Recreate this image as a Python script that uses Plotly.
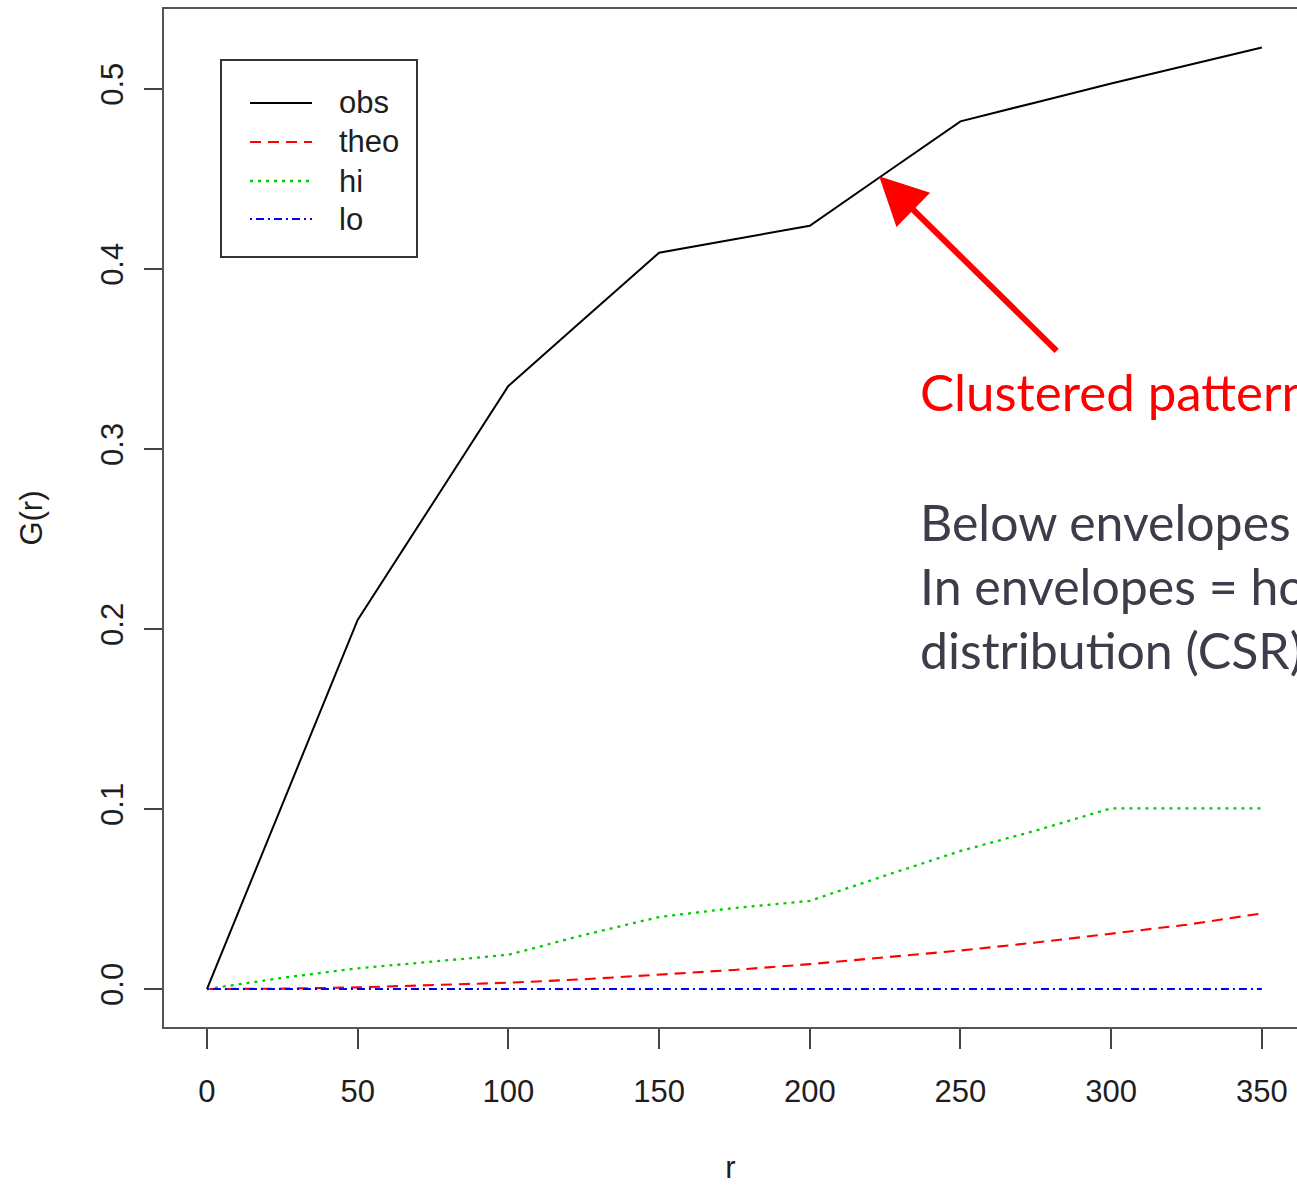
import plotly.graph_objects as go

# Nearest-neighbour distribution G(r) with simulation envelopes
r = [0, 25, 50, 75, 100, 125, 150, 175, 200, 225, 250, 275, 300, 325, 350]
g_obs = [0.0, 0.1025, 0.205, 0.270, 0.335, 0.372, 0.409, 0.4165, 0.424,
         0.453, 0.482, 0.4925, 0.503, 0.513, 0.523]
g_theo = [0.0, 0.0002, 0.0009, 0.0020, 0.0035, 0.0054, 0.0078, 0.0106,
          0.0138, 0.0174, 0.0214, 0.0258, 0.0306, 0.0357, 0.0420]
g_hi = [0.0, 0.0062, 0.0115, 0.0152, 0.0190, 0.0300, 0.0400, 0.0450,
        0.0490, 0.0630, 0.0767, 0.0880, 0.1004, 0.1004, 0.1004]
g_lo = [0.0, 0.0, 0.0, 0.0, 0.0, 0.0, 0.0, 0.0, 0.0, 0.0, 0.0, 0.0, 0.0, 0.0, 0.0]

x_ticks = [0, 50, 100, 150, 200, 250, 300, 350]
y_ticks = [0.0, 0.1, 0.2, 0.3, 0.4, 0.5]
y_ticktext = ["0.0", "0.1", "0.2", "0.3", "0.4", "0.5"]

series = [
    ("obs", g_obs, "#000000", "solid", 2.0),
    ("theo", g_theo, "#FF0000", "11px,7px", 2.1),
    ("hi", g_hi, "#00CD00", "3px,5px", 2.3),
    ("lo", g_lo, "#0000FF", "2px,4px,8px,4px", 2.1),
]

W, H = 1297, 1185
L, T, B = 164, 9, 158
plot_w = W - L
plot_h = H - T - B

FONT = "Liberation Sans, Arial, sans-serif"
TXT = "#1e1e1e"


def px(x):
    return (x - L) / plot_w


def py(y):
    return (H - B - y) / plot_h


fig = go.Figure()
for name, vals, col, dash, w in series:
    fig.add_trace(go.Scatter(x=r, y=vals, mode="lines", name=name,
                             line=dict(color=col, dash=dash, width=w)))

# Legend box drawn in the base-graphics style
shapes = [dict(type="rect", xref="paper", yref="paper",
               x0=px(221), x1=px(417), y0=py(257), y1=py(60),
               line=dict(color="#333333", width=2), fillcolor="white")]
annotations = []
row_y = [103, 142, 181, 219]
for (name, vals, col, dash, w), yy in zip(series, row_y):
    shapes.append(dict(type="line", xref="paper", yref="paper",
                       x0=px(250), x1=px(312), y0=py(yy), y1=py(yy),
                       line=dict(color=col, dash=dash, width=w)))
    annotations.append(dict(xref="paper", yref="paper", x=px(337), y=py(yy),
                            text=name, showarrow=False, xanchor="left",
                            yanchor="middle",
                            font=dict(family=FONT, size=31, color=TXT)))

# Arrow pointing to the observed curve
annotations.append(dict(x=223, y=0.4515, xref="x", yref="y", text="",
                        showarrow=True, ax=179, ay=176, axref="pixel",
                        arrowcolor="#FF0000", arrowwidth=6, arrowhead=2,
                        arrowsize=1.6))

GILL = "Lato, Gill Sans, sans-serif"
annotations.append(dict(xref="paper", yref="paper", x=px(918), y=py(392),
                        text="Clustered pattern", showarrow=False,
                        xanchor="left", yanchor="middle",
                        font=dict(family=GILL, size=51, color="#FF0000")))
for line, yy in zip(["Below envelopes = regular pattern",
                     "In envelopes = homogeneous",
                     "distribution (CSR)"], [522, 586, 650]):
    annotations.append(dict(xref="paper", yref="paper", x=px(918), y=py(yy),
                            text=line, showarrow=False,
                            xanchor="left", yanchor="middle",
                            font=dict(family=GILL, size=50, color="#3c3c4a")))

fig.update_layout(
    width=W, height=H,
    margin=dict(l=L, r=0, t=T, b=B, autoexpand=False),
    paper_bgcolor="white", plot_bgcolor="white",
    showlegend=False,
    shapes=shapes, annotations=annotations,
    font=dict(family=FONT, color=TXT),
)
fig.update_xaxes(
    range=[-14.25, 361.65], tickvals=x_ticks, ticks="outside", ticklen=20,
    tickwidth=2, tickcolor="#444444", showline=True, linecolor="#555555",
    linewidth=2, mirror=True, showgrid=False, zeroline=False,
    tickfont=dict(size=31, family=FONT, color=TXT), ticklabelstandoff=16,
    title=dict(text="r", font=dict(size=31, family=FONT, color=TXT),
               standoff=52),
)
fig.update_yaxes(
    range=[-0.0211, 0.5444], tickvals=y_ticks, ticktext=y_ticktext,
    tickangle=-90, ticks="outside", ticklen=18, tickwidth=2,
    tickcolor="#444444", showline=True, linecolor="#555555", linewidth=2,
    mirror=False, showgrid=False, zeroline=False,
    tickfont=dict(size=31, family=FONT, color=TXT), ticklabelstandoff=9,
    title=dict(text="G(r)", font=dict(size=31, family=FONT, color=TXT),
               standoff=43),
)

fig.write_html("out.html")
